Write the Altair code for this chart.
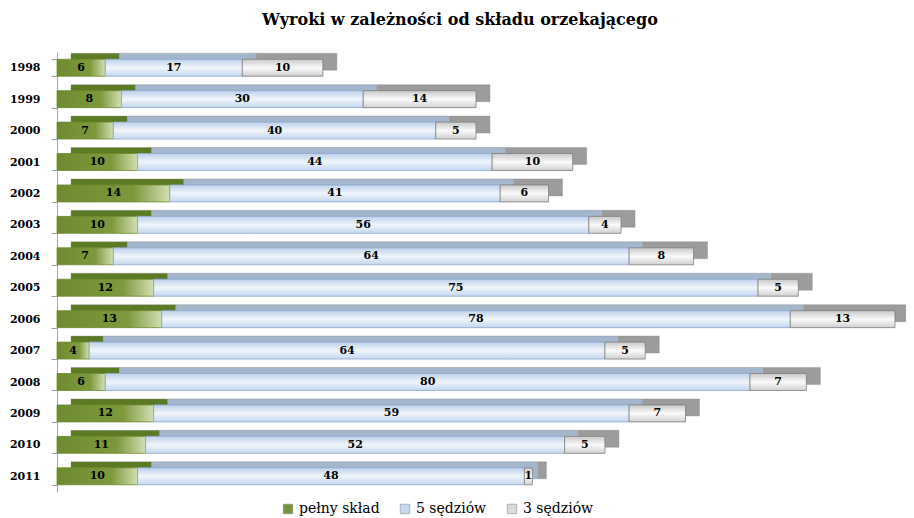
import altair as alt
import pandas as pd

years = ["1998", "1999", "2000", "2001", "2002", "2003", "2004",
         "2005", "2006", "2007", "2008", "2009", "2010", "2011"]
full_bench = [6, 8, 7, 10, 14, 10, 7, 12, 13, 4, 6, 12, 11, 10]
five_judges = [17, 30, 40, 44, 41, 56, 64, 75, 78, 64, 80, 59, 52, 48]
three_judges = [10, 14, 5, 10, 6, 4, 8, 5, 13, 5, 7, 7, 5, 1]
series = ["pełny skład", "5 sędziów", "3 sędziów"]

front_colors = ["#77933c", "#c6d9f1", "#d9d9d9"]
side_colors = ["#5c7a24", "#a3b6cc", "#9c9c9c"]

rows = []
for i, yr in enumerate(years):
    for k, vals in enumerate([full_bench, five_judges, three_judges]):
        rows.append({"year": yr, "series": series[k], "order": k, "value": vals[i]})
df = pd.DataFrame(rows)

FONT = "DejaVu Serif"

base = alt.Chart(df).transform_stack(
    stack="value", groupby=["year"], as_=["x0", "x1"],
    sort=[alt.SortField("order", order="ascending")]
).transform_calculate(mid="(datum.x0 + datum.x1) / 2")

xenc = alt.X("x0:Q", scale=alt.Scale(domain=[0, 104], nice=False, zero=True), axis=None)
yenc = alt.Y("year:N", sort=years,
             scale=alt.Scale(paddingInner=0.46, paddingOuter=0.23),
             axis=alt.Axis(title=None, labelFont=FONT, labelFontWeight="bold",
                           labelFontSize=11, labelColor="black", labelPadding=11,
                           domainColor="#a6a6a6", tickColor="#a6a6a6",
                           tickBand="extent", tickSize=6, grid=False))


def grad_h(stops):
    return alt.LinearGradient(gradient="linear", x1=0, x2=1, y1=0, y2=0,
                              stops=[alt.GradientStop(offset=o, color=c) for o, c in stops])


def grad_v(stops):
    return alt.LinearGradient(gradient="linear", x1=0, x2=0, y1=0, y2=1,
                              stops=[alt.GradientStop(offset=o, color=c) for o, c in stops])


green_fill = grad_h([(0, "#6e8b30"), (0.68, "#7d993c"), (1, "#d3dfb4")])
blue_fill = grad_v([(0, "#bcd0ea"), (0.5, "#f0f5fb"), (1, "#c3d6ee")])
gray_fill = grad_v([(0, "#c8c8c8"), (0.5, "#fafafa"), (1, "#d0d0d0")])

depths = []
fronts = []
for name, side, fill, stroke in zip(series, side_colors,
                                    [green_fill, blue_fill, gray_fill],
                                    ["#6e8b30", "#8eaad0", "#7f7f7f"]):
    sub = base.transform_filter(alt.datum.series == name)
    depths.append(
        sub.mark_bar(xOffset=14, x2Offset=14, yOffset=-6, y2Offset=-6,
                     fill=side, stroke="#8c8c8c", strokeWidth=0.4)
        .encode(x=xenc, x2="x1:Q", y=yenc)
    )
    fronts.append(
        sub.mark_bar(fill=fill, stroke=stroke, strokeWidth=0.8)
        .encode(x=xenc, x2="x1:Q", y=yenc)
    )

labels = base.mark_text(font=FONT, fontWeight="bold", fontSize=11, color="black").encode(
    x=alt.X("mid:Q"), y=yenc, text=alt.Text("value:Q")
)

legend_layer = base.mark_square(opacity=0, size=1).encode(
    x=alt.X("mid:Q"), y=yenc,
    color=alt.Color("series:N", scale=alt.Scale(domain=series, range=front_colors),
                    legend=alt.Legend(title=None, orient="none", direction="horizontal",
                                      legendX=224, legendY=450,
                                      symbolType="square", symbolSize=90,
                                      symbolOpacity=1, symbolStrokeColor="#8c8c8c",
                                      symbolStrokeWidth=0.6,
                                      labelFont=FONT, labelFontSize=14,
                                      labelColor="black", columnPadding=18,
                                      labelOffset=4)),
)

chart = alt.layer(*depths, *fronts, labels, legend_layer).properties(
    width=838, height=440,
    title=alt.Title("Wyroki w zależności od składu orzekającego",
                    font=FONT, fontSize=16, fontWeight="bold", color="black",
                    anchor="middle", offset=18, dx=-16),
    autosize=alt.AutoSizeParams(type="none"),
    padding={"left": 49, "top": 44, "right": 11, "bottom": 26},
).configure(font=FONT).configure_view(stroke=None).configure_legend(
    labelFont=FONT, labelFontSize=14)

chart.save("out.html", embed_options={"renderer": "svg", "actions": False})
